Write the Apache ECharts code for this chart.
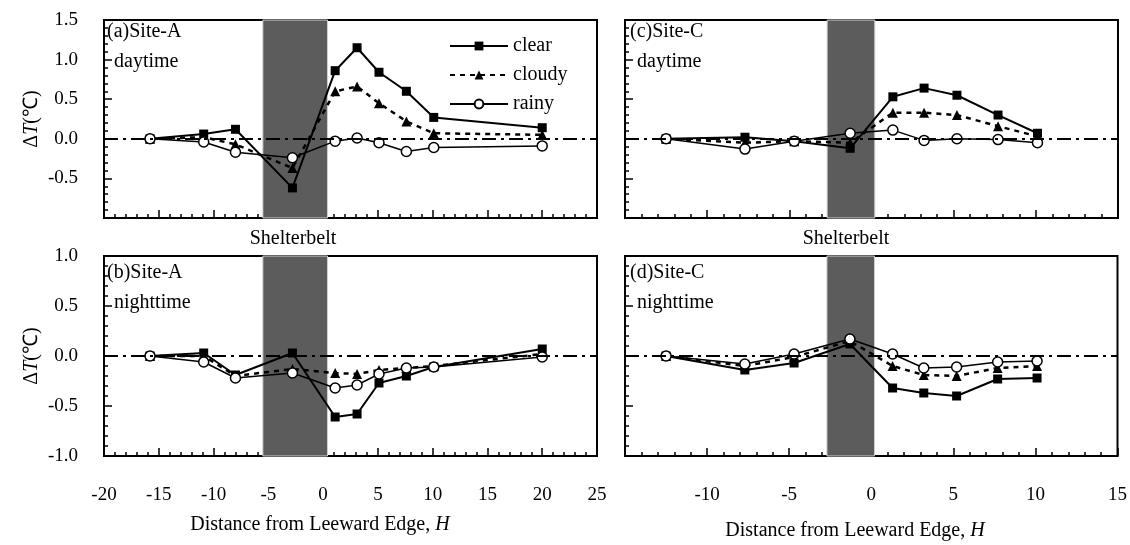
<!DOCTYPE html>
<html><head><meta charset="utf-8">
<script src="https://cdn.jsdelivr.net/npm/echarts@6/dist/echarts.min.js"></script>
<style>html,body{margin:0;padding:0;background:#fff}#c{width:1130px;height:545px}</style>
</head><body><div id="c"></div>
<script>
// ---- data ----
const xA = [-15.8, -10.9, -8.0, -2.8, 1.1, 3.1, 5.1, 7.6, 10.1, 20.0];
const aClear  = [0, 0.06, 0.12, -0.62, 0.86, 1.15, 0.84, 0.60, 0.27, 0.14];
const aCloudy = [0, 0.02, -0.07, -0.37, 0.60, 0.66, 0.45, 0.22, 0.07, 0.05];
const aRainy  = [0, -0.04, -0.17, -0.24, -0.03, 0.01, -0.05, -0.16, -0.11, -0.09];
const bClear  = [0, 0.03, -0.19, 0.03, -0.61, -0.58, -0.27, -0.20, -0.11, 0.07];
const bCloudy = [0, 0.00, -0.20, -0.13, -0.17, -0.18, -0.14, -0.12, -0.10, 0.02];
const bRainy  = [0, -0.06, -0.22, -0.17, -0.32, -0.29, -0.18, -0.12, -0.11, -0.01];
const xC = [-12.5, -7.7, -4.7, -1.3, 1.3, 3.2, 5.2, 7.7, 10.1];
const cClear  = [0, 0.02, -0.03, -0.12, 0.53, 0.64, 0.55, 0.30, 0.07];
const cCloudy = [0, -0.05, -0.03, -0.05, 0.33, 0.33, 0.30, 0.16, 0.03];
const cRainy  = [0, -0.13, -0.03, 0.07, 0.11, -0.02, 0.00, -0.01, -0.05];
const dClear  = [0, -0.14, -0.07, 0.12, -0.32, -0.37, -0.40, -0.23, -0.22];
const dCloudy = [0, -0.10, -0.01, 0.15, -0.10, -0.19, -0.20, -0.12, -0.10];
const dRainy  = [0, -0.08, 0.02, 0.17, 0.02, -0.12, -0.11, -0.06, -0.05];
const beltA = [-5.5, 0.4];
const beltC = [-2.7, 0.2];
const xRangeA = [-20, 25];
const xRangeC = [-15, 15];
const yRangeDay = [-1.0, 1.5];
const yRangeNight = [-1.0, 1.0];
const seriesNames = ['clear', 'cloudy', 'rainy'];
const panelTitles = [['(a)Site-A', 'daytime'], ['(b)Site-A', 'nighttime'], ['(c)Site-C', 'daytime'], ['(d)Site-C', 'nighttime']];

// ---- styling ----
const FONT = '"Liberation Serif", "Times New Roman", serif';
const grids = [
  {left: 104, top: 20, width: 493, height: 198},
  {left: 104, top: 256, width: 493, height: 200},
  {left: 625, top: 20, width: 493, height: 198},
  {left: 625, top: 256, width: 493, height: 200}
].map(g => Object.assign({show: true, borderColor: '#000', borderWidth: 2, backgroundColor: 'rgba(0,0,0,0)'}, g));

function xAxis(i, range, showLabel) {
  return {
    type: 'value', gridIndex: i, min: range[0], max: range[1], interval: 5,
    axisLine: {show: true, onZero: false, lineStyle: {color: '#000', width: 2}},
    axisTick: {show: true, inside: true, length: 8, lineStyle: {color: '#000', width: 1.5}},
    minorTick: {show: true, splitNumber: 5, length: 4, lineStyle: {color: '#000', width: 1.5}},
    splitLine: {show: false},
    axisLabel: {show: showLabel, color: '#000', fontFamily: FONT, fontSize: 19, margin: 30,
      formatter: v => (v === range[0] && range[0] === -15) ? '' : String(v)}
  };
}
function yAxis(i, range, showLabel, showMin) {
  return {
    type: 'value', gridIndex: i, min: range[0], max: range[1], interval: 0.5,
    axisLine: {show: true, onZero: false, lineStyle: {color: '#000', width: 2}},
    axisTick: {show: true, inside: true, length: 8, lineStyle: {color: '#000', width: 1.5}},
    minorTick: {show: true, splitNumber: 5, length: 4, lineStyle: {color: '#000', width: 1.5}},
    splitLine: {show: false},
    axisLabel: {show: showLabel, showMinLabel: showMin, color: '#000', fontFamily: FONT, fontSize: 19, margin: 26,
      formatter: v => (!showMin && v === range[0]) ? '' : v.toFixed(1)},
    name: showLabel ? '{n|Δ}{i|T}{n|(℃)}' : '',
    nameLocation: 'middle', nameGap: 62, nameRotate: 90,
    nameTextStyle: {rich: {n: {fontFamily: FONT, fontSize: 20, color: '#000'}, i: {fontFamily: FONT, fontSize: 20, fontStyle: 'italic', color: '#000'}}}
  };
}

const styles = {
  clear:  {symbol: 'rect', symbolSize: 9, lineStyle: {color: '#000', width: 2, type: 'solid'}, itemStyle: {color: '#000', borderColor: '#000', borderWidth: 0}},
  cloudy: {symbol: 'triangle', symbolSize: 10, lineStyle: {color: '#000', width: 2.5, type: [5, 5]}, itemStyle: {color: '#000', borderColor: '#000', borderWidth: 0}},
  rainy:  {symbol: 'circle', symbolSize: 10, lineStyle: {color: '#000', width: 1.5, type: 'solid'}, itemStyle: {color: '#fff', borderColor: '#000', borderWidth: 1.5}}
};

function mk(name, xs, ys, gi, extra) {
  return Object.assign({
    type: 'line', name: name, xAxisIndex: gi, yAxisIndex: gi,
    data: xs.map((x, k) => [x, ys[k]]), showSymbol: true, animation: false, z: name === 'rainy' ? 4 : 3
  }, JSON.parse(JSON.stringify(styles[name])), extra || {});
}
function belt(range) {
  return {
    silent: true,
    itemStyle: {color: '#5c5c5c', borderColor: '#d0d0d0', borderWidth: 1},
    data: [[{xAxis: range[0]}, {xAxis: range[1]}]]
  };
}
const zeroLine = {
  silent: true, symbol: 'none', label: {show: false},
  lineStyle: {color: '#000', width: 2, type: [14, 5, 3, 5]},
  data: [{yAxis: 0}]
};

const panels = [
  {gi: 0, xs: xA, d: [aClear, aCloudy, aRainy], belt: beltA},
  {gi: 1, xs: xA, d: [bClear, bCloudy, bRainy], belt: beltA},
  {gi: 2, xs: xC, d: [cClear, cCloudy, cRainy], belt: beltC},
  {gi: 3, xs: xC, d: [dClear, dCloudy, dRainy], belt: beltC}
];
const series = [];
panels.forEach(p => {
  seriesNames.forEach((n, k) => {
    const extra = k === 0 ? {markArea: belt(p.belt), markLine: zeroLine} : {};
    series.push(mk(n, p.xs, p.d[k], p.gi, extra));
  });
});

const graphic = [];
const titlePos = [[107, 33, 114, 63], [107, 274, 114, 304], [630, 33, 637, 63], [630, 274, 637, 304]];
panelTitles.forEach((t, i) => {
  const p = titlePos[i];
  graphic.push({type: 'text', left: p[0], top: p[1] - 11, style: {text: t[0], font: '20px ' + FONT, fill: '#000'}});
  graphic.push({type: 'text', left: p[2], top: p[3] - 11, style: {text: t[1], font: '20px ' + FONT, fill: '#000'}});
});
graphic.push({type: 'text', x: 293, y: 239, style: {text: 'Shelterbelt', font: '20px ' + FONT, fill: '#000', align: 'center', verticalAlign: 'middle'}});
graphic.push({type: 'text', x: 846, y: 239, style: {text: 'Shelterbelt', font: '20px ' + FONT, fill: '#000', align: 'center', verticalAlign: 'middle'}});
const xTitle = (cx, cy) => ({type: 'text', x: cx, y: cy, style: {
  text: '{n|Distance from Leeward Edge, }{i|H}', align: 'center', verticalAlign: 'middle',
  rich: {n: {font: '20px ' + FONT, fill: '#000'}, i: {font: 'italic 20px ' + FONT, fill: '#000'}}}});
graphic.push(xTitle(320, 525));
graphic.push(xTitle(855, 531));

const option = {
  animation: false,
  backgroundColor: '#fff',
  grid: grids,
  xAxis: [xAxis(0, xRangeA, false), xAxis(1, xRangeA, true), xAxis(2, xRangeC, false), xAxis(3, xRangeC, true)],
  yAxis: [yAxis(0, yRangeDay, true, false), yAxis(1, yRangeNight, true, true), yAxis(2, yRangeDay, false, false), yAxis(3, yRangeNight, false, true)],
  legend: {
    data: seriesNames, orient: 'vertical', left: 444, top: 31, itemGap: 9,
    itemWidth: 58, itemHeight: 11,
    textStyle: {fontFamily: FONT, fontSize: 20, color: '#000'}
  },
  series: series,
  graphic: graphic
};
const chart = echarts.init(document.getElementById('c'), null, {renderer: 'canvas'});
chart.setOption(option);
</script></body></html>
